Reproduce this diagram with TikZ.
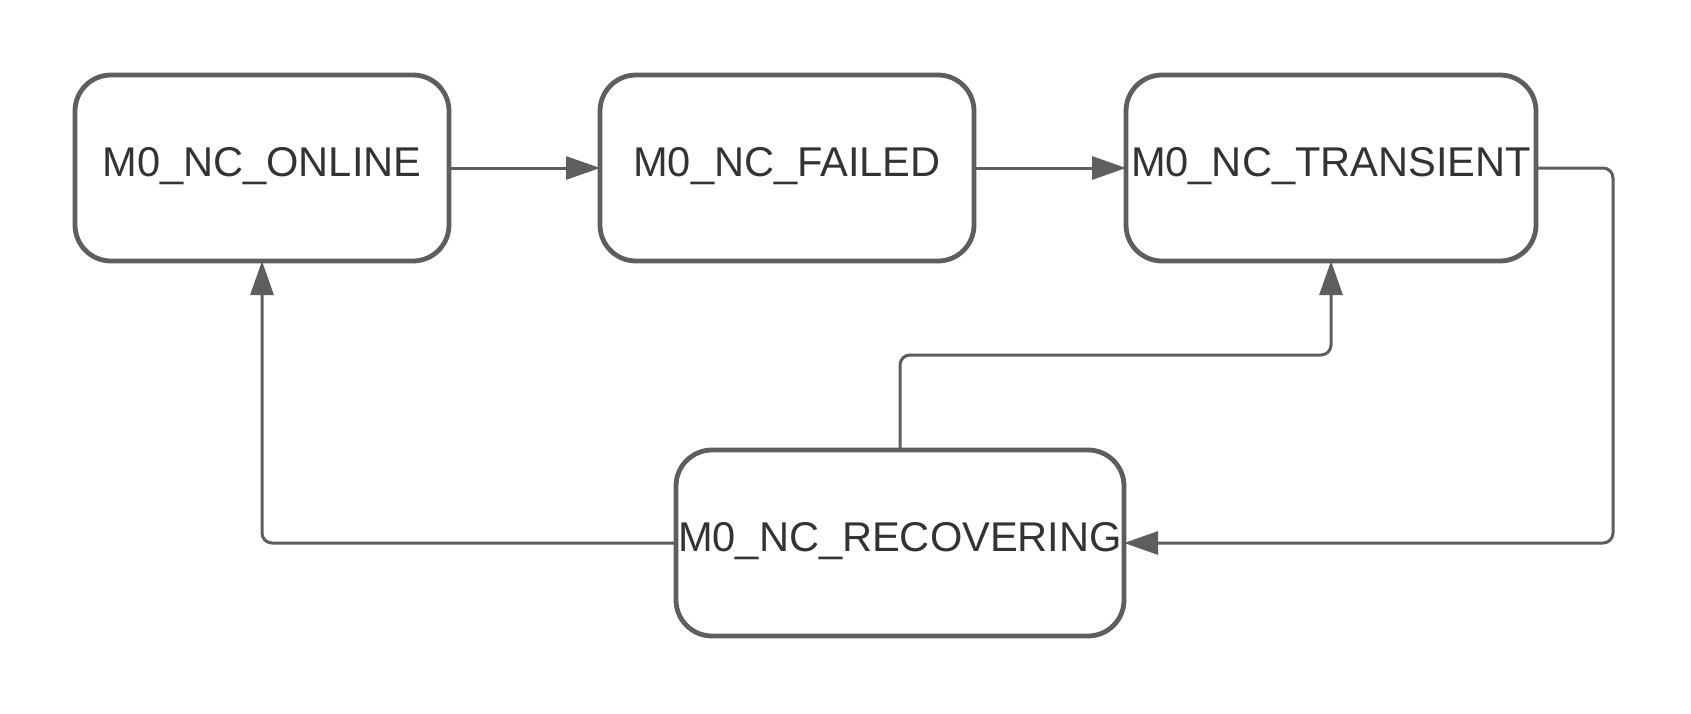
\documentclass[tikz,border=0pt]{standalone}
\usepackage{fontspec}
\setmainfont{Liberation Sans}
\usepackage{tikz}
\usetikzlibrary{arrows.meta,positioning}
\definecolor{linegray}{HTML}{5E5E5E}
\definecolor{textgray}{HTML}{333333}

\begin{document}
\begin{tikzpicture}[
      x=0.5pt, y=-0.5pt,
      state/.style={draw=linegray, line width=2.4pt, rounded corners=18pt,
        minimum height=93pt, inner sep=0, outer sep=0, text=textgray,
        font={\fontsize{20.8}{25}\selectfont}, text height=15pt, text depth=6.3pt},
      narrow/.style={state, minimum width=187pt},
      wide/.style={state, minimum width=205pt},
      widest/.style={state, minimum width=224pt},
      trans/.style={draw=linegray, line width=1.5pt, rounded corners=5pt,
        -{Triangle[length=17pt,width=11.5pt]}},
      node distance=75.5pt
  ]
  \useasboundingbox (0,0) rectangle (1691,713);

  \node[narrow] (online) at (262,168) {M0\_NC\_ONLINE};
  \node[narrow, right=of online] (failed) {M0\_NC\_FAILED};
  \node[wide, right=76pt of failed] (transient) {M0\_NC\_TRANSIENT};
  \node[widest] (recovering) at (900,543) {M0\_NC\_RECOVERING};

  \draw[trans] (online) -- (failed);
  \draw[trans] (failed) -- (transient);
  \draw[trans] (transient.east) -- ++(77,0) |- (recovering.east);
  \draw[trans] (recovering.north) -- ++(0,-95) -| (transient.south);
  \draw[trans] (recovering.west) -| (online.south);

\end{tikzpicture}
\end{document}
